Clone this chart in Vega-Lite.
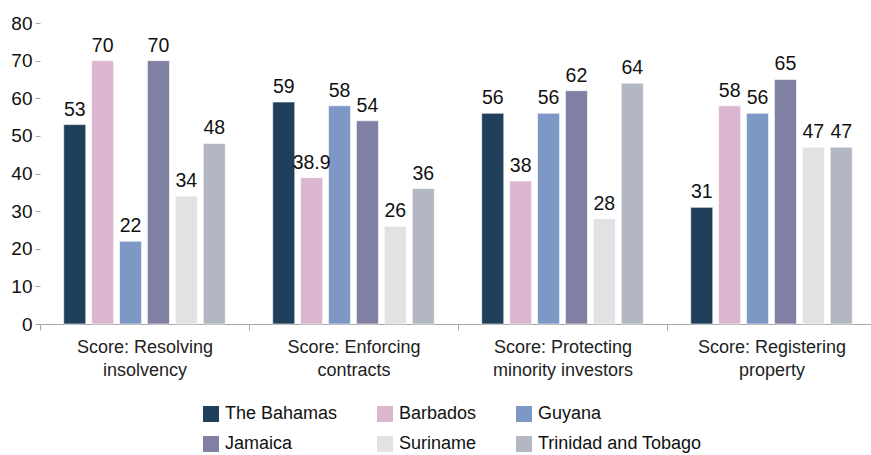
{
  "$schema": "https://vega.github.io/schema/vega-lite/v6.json",
  "width": 836,
  "height": 301,
  "autosize": "none",
  "padding": {"left": 40, "top": 23, "right": 0, "bottom": 131},
  "background": "white",
  "config": {
    "view": {"stroke": null},
    "font": "Liberation Sans",
    "axis": {"labelFont": "Liberation Sans", "grid": false},
    "legend": {"labelFont": "Liberation Sans"},
    "text": {"font": "Liberation Sans"}
  },
  "data": {
    "values": [
      {"indicator": "Score: Resolving insolvency", "country": "The Bahamas", "score": 53},
      {"indicator": "Score: Resolving insolvency", "country": "Barbados", "score": 70},
      {"indicator": "Score: Resolving insolvency", "country": "Guyana", "score": 22},
      {"indicator": "Score: Resolving insolvency", "country": "Jamaica", "score": 70},
      {"indicator": "Score: Resolving insolvency", "country": "Suriname", "score": 34},
      {"indicator": "Score: Resolving insolvency", "country": "Trinidad and Tobago", "score": 48},
      {"indicator": "Score: Enforcing contracts", "country": "The Bahamas", "score": 59},
      {"indicator": "Score: Enforcing contracts", "country": "Barbados", "score": 38.9},
      {"indicator": "Score: Enforcing contracts", "country": "Guyana", "score": 58},
      {"indicator": "Score: Enforcing contracts", "country": "Jamaica", "score": 54},
      {"indicator": "Score: Enforcing contracts", "country": "Suriname", "score": 26},
      {"indicator": "Score: Enforcing contracts", "country": "Trinidad and Tobago", "score": 36},
      {"indicator": "Score: Protecting minority investors", "country": "The Bahamas", "score": 56},
      {"indicator": "Score: Protecting minority investors", "country": "Barbados", "score": 38},
      {"indicator": "Score: Protecting minority investors", "country": "Guyana", "score": 56},
      {"indicator": "Score: Protecting minority investors", "country": "Jamaica", "score": 62},
      {"indicator": "Score: Protecting minority investors", "country": "Suriname", "score": 28},
      {"indicator": "Score: Protecting minority investors", "country": "Trinidad and Tobago", "score": 64},
      {"indicator": "Score: Registering property", "country": "The Bahamas", "score": 31},
      {"indicator": "Score: Registering property", "country": "Barbados", "score": 58},
      {"indicator": "Score: Registering property", "country": "Guyana", "score": 56},
      {"indicator": "Score: Registering property", "country": "Jamaica", "score": 65},
      {"indicator": "Score: Registering property", "country": "Suriname", "score": 47},
      {"indicator": "Score: Registering property", "country": "Trinidad and Tobago", "score": 47}
    ]
  },
  "encoding": {
    "x": {
      "field": "indicator",
      "type": "nominal",
      "sort": ["Score: Resolving insolvency", "Score: Enforcing contracts", "Score: Protecting minority investors", "Score: Registering property"],
      "scale": {"paddingInner": 0, "paddingOuter": 0},
      "axis": {
        "title": null,
        "labelAngle": 0,
        "labelExpr": "isValid(datum.value) ? [join(slice(split(datum.value, ' '), 0, 2), ' '), join(slice(split(datum.value, ' '), 2), ' ')] : ''",
        "labelFontSize": 18,
        "labelColor": "#222222",
        "labelLineHeight": 23,
        "labelPadding": 8,
        "labelLimit": 300,
        "domainColor": "#a6a6a6",
        "tickColor": "#a6a6a6",
        "tickBand": "extent",
        "tickSize": 6
      }
    },
    "xOffset": {
      "field": "country",
      "type": "nominal",
      "sort": ["The Bahamas", "Barbados", "Guyana", "Jamaica", "Suriname", "Trinidad and Tobago"],
      "scale": {"paddingInner": 0.21, "paddingOuter": 0.85}
    },
    "y": {
      "field": "score",
      "type": "quantitative",
      "scale": {"domain": [0, 80], "nice": false},
      "axis": {
        "title": null,
        "values": [0, 10, 20, 30, 40, 50, 60, 70, 80],
        "domain": false,
        "grid": false,
        "tickColor": "#a6a6a6",
        "tickSize": 5,
        "labelFontSize": 19,
        "labelColor": "#111111",
        "labelPadding": 3
      }
    }
  },
  "layer": [
    {
      "mark": {"type": "bar", "stroke": "white", "strokeWidth": 0.6},
      "encoding": {
        "color": {
          "field": "country",
          "type": "nominal",
          "sort": ["The Bahamas", "Barbados", "Guyana", "Jamaica", "Suriname", "Trinidad and Tobago"],
          "scale": {
            "domain": ["The Bahamas", "Barbados", "Guyana", "Jamaica", "Suriname", "Trinidad and Tobago"],
            "range": ["#1f3f5a", "#dbb6cf", "#7e98c5", "#7f80a3", "#e1e2e4", "#b3b7c4"]
          },
          "legend": {
            "title": null,
            "orient": "none",
            "legendX": 162,
            "legendY": 382,
            "direction": "horizontal",
            "columns": 3,
            "symbolType": "square",
            "symbolSize": 256,
            "symbolStrokeWidth": 0,
            "labelFontSize": 18,
            "labelColor": "#111111",
            "labelOffset": 5,
            "labelLimit": 300,
            "columnPadding": 38,
            "rowPadding": 12
          }
        }
      }
    },
    {
      "mark": {"type": "text", "baseline": "bottom", "dy": -5, "fontSize": 19.5, "color": "#111111"},
      "encoding": {
        "text": {"field": "score", "type": "quantitative"}
      }
    }
  ]
}
